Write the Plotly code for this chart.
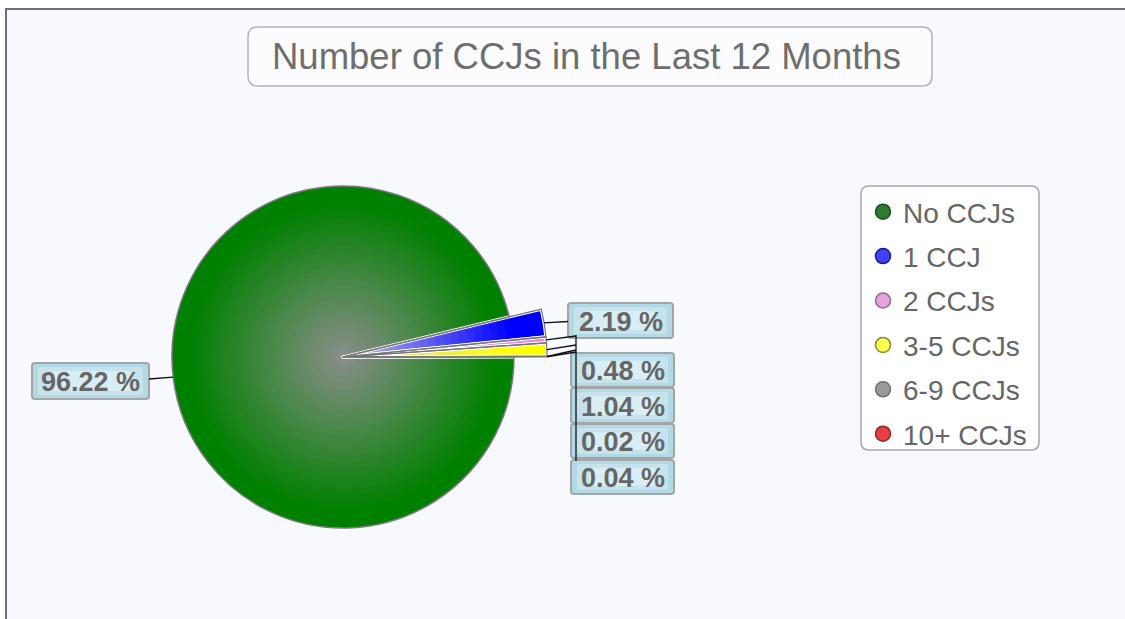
import math
import plotly.graph_objects as go

W, H = 1125, 619

# ---------------- data ----------------
categories = ["No CCJs", "1 CCJ", "2 CCJs", "3-5 CCJs", "6-9 CCJs", "10+ CCJs"]
shares = [96.22, 2.19, 0.48, 1.04, 0.02, 0.04]
label_texts = ["96.22 %", "2.19 %", "0.48 %", "1.04 %", "0.02 %", "0.04 %"]
title_text = "Number of CCJs in the Last 12 Months"

# ---------------- styles ----------------
slice_colors = ["#008000", "#0000ff", "#ee82ee", "#ffff00", "#808080", "#ff0000"]
legend_colors = ["#2e7d2e", "#4040ff", "#e4a4e4", "#ffff50", "#9a9a9a", "#e84040"]
legend_lines = ["#1f4f1f", "#1a1a8a", "#8a6a8a", "#8a8a30", "#707070", "#8a2a2a"]

CX, CY = 343, 357          # pie centre (px)
R_MAIN = 171               # radius of the big slice (px)
R_SMALL = 204              # radius of the small slices (px)
N_RINGS = 26

TEXT_GREY = "#666666"
LABEL_FONT = dict(family="Liberation Sans, Arial", size=27, color=TEXT_GREY, weight="bold")
LEGEND_FONT = dict(family="Liberation Sans, Arial", size=28, color=TEXT_GREY)


def px(x):
    return x / W


def py(y):
    return 1 - y / H


def hex2rgb(h):
    h = h.lstrip("#")
    return tuple(int(h[i:i + 2], 16) for i in (0, 2, 4))


def mix(c0, c1, t):
    a, b = hex2rgb(c0), hex2rgb(c1)
    return "rgb(%d,%d,%d)" % tuple(round(a[i] + (b[i] - a[i]) * t) for i in range(3))


def domain_for(r):
    return dict(x=[px(CX - r), px(CX + r)], y=[py(CY + r), py(CY - r)])


TRANSP = "rgba(0,0,0,0)"
fig = go.Figure()

common = dict(labels=categories, values=shares, sort=False, direction="clockwise",
              rotation=90, textinfo="none", hoverinfo="skip", showlegend=False)

# --- small slices: radial gradient rings (largest first) ---
for k in range(N_RINGS):
    t = 1 - k / N_RINGS
    r = R_SMALL * t
    f = min(1.0, t / 0.85)
    cols = [TRANSP] + [mix("#d4d4dc", c, f ** 0.9) for c in slice_colors[1:]]
    fig.add_trace(go.Pie(**common, domain=domain_for(r),
                         marker=dict(colors=cols, line=dict(width=0))))

# --- big slice: radial gradient rings ---
for k in range(N_RINGS):
    t = 1 - k / N_RINGS
    r = R_MAIN * t
    f = min(1.0, t / 0.92)
    cols = [mix("#8e8e8e", slice_colors[0], f)] + [TRANSP] * 5
    fig.add_trace(go.Pie(**common, domain=domain_for(r),
                         marker=dict(colors=cols, line=dict(width=0))))

# --- outlines ---
fig.add_trace(go.Pie(**common, domain=domain_for(R_SMALL),
                     marker=dict(colors=[TRANSP] * 6,
                                 line=dict(color=[TRANSP] + ["#ffffff"] * 5, width=3.2))))
fig.add_trace(go.Pie(**common, domain=domain_for(R_SMALL),
                     marker=dict(colors=[TRANSP] * 6,
                                 line=dict(color=[TRANSP] + ["#747474"] * 5, width=1.2))))
fig.add_trace(go.Pie(**common, domain=domain_for(R_MAIN),
                     marker=dict(colors=[TRANSP] * 6,
                                 line=dict(color=["#7a7a7a"] + [TRANSP] * 5, width=1.5))))

# --- legend entries ---
for i, name in enumerate(categories):
    fig.add_trace(go.Scatter(x=[None], y=[None], mode="markers", name=name,
                             legendgroup=name,
                             marker=dict(symbol="circle", size=15, color=legend_colors[i],
                                         line=dict(color=legend_lines[i], width=1.5))))

# --- slice tip positions from the data ---
total = sum(shares)
tips = []
cum = 0.0
for i, v in enumerate(shares):
    theta = math.radians(360 * (cum + v / 2) / total)
    r = R_MAIN if i == 0 else R_SMALL
    tips.append((CX + r * math.cos(theta), CY + r * math.sin(theta)))
    cum += v

shapes = []


def rounded_rect(x0, y0, x1, y1, rad, line_color, fill, width, layer="below"):
    path = (f"M {px(x0 + rad)} {py(y0)} L {px(x1 - rad)} {py(y0)} "
            f"Q {px(x1)} {py(y0)} {px(x1)} {py(y0 + rad)} "
            f"L {px(x1)} {py(y1 - rad)} Q {px(x1)} {py(y1)} {px(x1 - rad)} {py(y1)} "
            f"L {px(x0 + rad)} {py(y1)} Q {px(x0)} {py(y1)} {px(x0)} {py(y1 - rad)} "
            f"L {px(x0)} {py(y0 + rad)} Q {px(x0)} {py(y0)} {px(x0 + rad)} {py(y0)} Z")
    return dict(type="path", path=path, xref="paper", yref="paper",
                line=dict(color=line_color, width=width), fillcolor=fill, layer=layer)


# frame / background
shapes.append(dict(type="rect", xref="paper", yref="paper",
                   x0=px(6), x1=px(1140), y0=py(640), y1=py(9),
                   line=dict(color="#707070", width=2), fillcolor="#f8f8ff", layer="below"))
# title box
shapes.append(rounded_rect(248, 27, 932, 86, 10, "#b4b4b4", "#fcfcfe", 1.5))
# legend box
shapes.append(rounded_rect(861, 186, 1039, 450, 8, "#a8a8a8", "#ffffff", 1.5))

# label boxes (light-blue, lighter towards the middle)
label_boxes = [(32, 363, 149, 399), (568, 303, 673, 338), (571, 353, 674, 387),
               (571, 388, 674, 423), (571, 424, 674, 458), (571, 460, 674, 494)]
for (x0, y0, x1, y1) in label_boxes:
    shapes.append(rounded_rect(x0, y0, x1, y1, 3, "#a4a4a4", "#b2d9e6", 2, layer="above"))
    shapes.append(rounded_rect(x0 + 6, y0 + 4, x1 - 6, y1 - 4, 3, "rgba(0,0,0,0)",
                               "#c6e3ed", 0, layer="above"))
    shapes.append(rounded_rect(x0 + 18, y0 + 8, x1 - 18, y1 - 8, 4, "rgba(0,0,0,0)",
                               "#d9eef4", 0, layer="above"))


def seg(x0, y0, x1, y1, color="#111111", width=1.3):
    return dict(type="line", xref="paper", yref="paper",
                x0=px(x0), y0=py(y0), x1=px(x1), y1=py(y1),
                line=dict(color=color, width=width), layer="above")


# leader lines
shapes.append(seg(tips[0][0], tips[0][1], 149, 379))
shapes.append(seg(tips[1][0], tips[1][1], 568, 321.5))
stub_y = [336, 345, 350, 352]
for i in range(2, 6):
    shapes.append(seg(tips[i][0], tips[i][1], 576, stub_y[i - 2]))
shapes.append(seg(576, 335, 576, 461))

# label texts
annotations = []
for i, txt in enumerate(label_texts):
    x0, y0, x1, y1 = label_boxes[i]
    annotations.append(dict(text=txt, x=px((x0 + x1) / 2), y=py((y0 + y1) / 2 + 1),
                            xref="paper", yref="paper",
                            xanchor="center", yanchor="middle", showarrow=False,
                            font=LABEL_FONT))

# title
annotations.append(dict(text=title_text, x=px(586), y=py(57), xref="paper", yref="paper",
                        xanchor="center", yanchor="middle", showarrow=False,
                        font=dict(family="Liberation Sans, Arial", size=36.5, color="#6e6e6e")))

fig.update_layout(
    width=W, height=H,
    margin=dict(l=0, r=0, t=0, b=0),
    paper_bgcolor="#ffffff",
    plot_bgcolor="rgba(0,0,0,0)",
    xaxis=dict(visible=False), yaxis=dict(visible=False),
    shapes=shapes,
    annotations=annotations,
    showlegend=True,
    legend=dict(x=px(863), y=py(187), xanchor="left", yanchor="top",
                bgcolor="rgba(0,0,0,0)", borderwidth=0,
                tracegroupgap=5, traceorder="grouped",
                font=LEGEND_FONT),
)

fig.write_html("out.html", config={"displayModeBar": False},
               post_script="document.body.style.margin='0px';")
